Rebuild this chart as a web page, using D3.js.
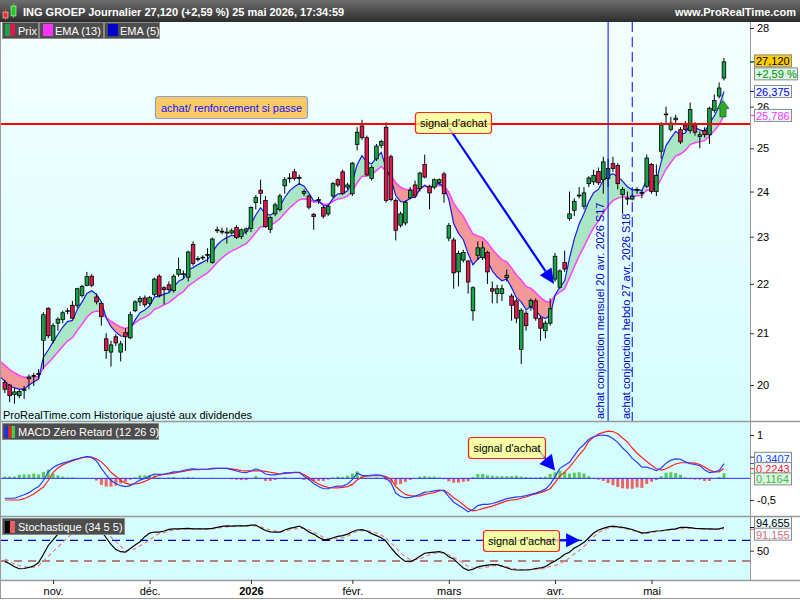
<!DOCTYPE html>
<html>
<head>
<meta charset="utf-8">
<script src="https://cdn.jsdelivr.net/npm/d3@7"></script>
<style>
body { margin: 0; background: #fff; }
svg { display: block; font-family: "Liberation Sans", Arial, sans-serif; }
</style>
</head>
<body>
<div id="chart"></div>
<script>
// daily candles ING GROEP, 20 oct. 2025 -> 25 mai 2026
const openP = [
  20.05, 20.00, 19.82, 19.80, 19.90, 20.12, 20.17, 20.20, 20.86, 21.50,
  20.86, 21.20, 21.27, 21.44, 21.56, 21.56, 21.76, 21.97, 22.16, 21.73,
  21.60, 20.89, 20.63, 20.93, 20.63, 21.01, 20.91, 21.45, 21.63, 21.71,
  21.60, 21.78, 22.16, 21.92, 21.98, 21.86, 22.20, 22.20, 22.14, 22.83,
  22.52, 22.55, 22.60, 22.45, 23.13, 23.10, 23.08, 23.08, 23.20, 23.00,
  23.12, 23.18, 23.75, 24.03, 23.80, 23.16, 23.50, 23.60, 24.13, 24.30,
  24.45, 24.31, 23.96, 23.90, 23.49, 23.80, 23.64, 23.50, 23.90, 24.27,
  24.45, 24.10, 23.95, 25.09, 25.53, 25.25, 24.30, 24.75, 25.07, 25.50,
  24.80, 23.80, 23.25, 23.30, 23.86, 24.15, 24.07, 24.62, 24.12, 24.10,
  24.20, 24.40, 22.97, 22.93, 22.25, 22.50, 22.48, 21.45, 22.60, 22.55,
  22.66, 21.90, 21.80, 21.80, 22.13, 21.75, 21.65, 20.68, 21.40, 21.54,
  21.65, 21.30, 21.05, 21.20, 22.10, 21.93, 22.45, 23.40, 23.58, 23.90,
  23.67, 24.18, 24.22, 24.46, 24.27, 24.30, 24.64, 24.60, 23.93, 23.83,
  23.83, 24.04, 23.96, 24.12, 24.62, 24.00, 24.93, 25.80, 25.45, 25.68,
  25.44, 25.55, 25.42, 25.56, 25.28, 25.42, 25.32, 25.91, 26.26, 26.71
];
const highP = [
  20.10, 20.02, 19.95, 19.92, 19.98, 20.20, 20.23, 20.30, 21.42, 21.52,
  21.20, 21.32, 21.45, 21.50, 21.65, 21.92, 21.98, 22.25, 22.20, 21.80,
  21.62, 21.00, 20.85, 20.98, 20.85, 21.10, 21.43, 21.66, 21.75, 21.76,
  21.75, 22.13, 22.20, 21.95, 22.05, 22.20, 22.55, 22.28, 22.70, 22.90,
  22.58, 22.60, 22.75, 22.98, 23.22, 23.20, 23.20, 23.18, 23.25, 23.18,
  23.20, 23.67, 23.92, 24.27, 23.90, 23.45, 23.75, 23.95, 24.33, 24.42,
  24.52, 24.38, 24.05, 23.93, 23.52, 23.88, 23.68, 23.70, 24.22, 24.30,
  24.50, 24.20, 24.68, 25.50, 25.68, 25.30, 24.60, 25.10, 25.20, 25.62,
  24.85, 23.85, 23.55, 23.80, 24.10, 24.25, 24.45, 24.85, 24.15, 24.30,
  24.30, 24.45, 23.30, 22.98, 22.70, 22.72, 22.50, 21.95, 22.90, 22.90,
  22.70, 22.05, 21.98, 21.98, 22.30, 21.80, 21.70, 21.50, 21.45, 21.70,
  21.70, 21.35, 21.25, 21.70, 22.65, 22.30, 22.70, 24.00, 23.85, 24.10,
  24.10, 24.35, 24.50, 24.55, 24.80, 24.75, 24.80, 24.65, 24.10, 24.00,
  23.95, 24.10, 24.03, 24.85, 24.65, 24.62, 25.62, 26.00, 25.75, 25.80,
  25.50, 25.65, 26.10, 25.62, 25.40, 25.50, 26.00, 26.30, 26.60, 27.22
];
const lowP = [
  19.85, 19.68, 19.65, 19.75, 19.74, 19.92, 19.98, 20.12, 20.30, 20.90,
  20.80, 21.05, 21.20, 21.38, 21.28, 21.50, 21.72, 21.95, 21.93, 21.58,
  21.15, 20.50, 20.35, 20.75, 20.45, 20.65, 20.88, 21.42, 21.55, 21.52,
  21.55, 21.75, 21.72, 21.58, 21.83, 21.82, 22.15, 22.10, 22.05, 22.38,
  22.47, 22.50, 22.45, 22.42, 23.08, 23.05, 22.85, 23.05, 22.95, 22.95,
  23.05, 23.10, 23.60, 23.72, 23.20, 23.08, 23.45, 23.55, 23.95, 24.20,
  24.25, 24.15, 23.90, 23.60, 23.15, 23.72, 23.40, 23.45, 23.85, 24.10,
  23.92, 24.05, 23.90, 24.95, 25.20, 24.35, 24.25, 24.70, 25.00, 23.75,
  23.78, 22.92, 23.20, 23.25, 23.82, 23.85, 24.00, 24.30, 23.60, 24.05,
  24.15, 23.75, 22.90, 21.90, 21.95, 22.45, 21.80, 21.25, 22.50, 22.50,
  22.00, 21.60, 21.60, 21.65, 22.05, 21.25, 21.20, 20.40, 21.05, 21.45,
  21.25, 20.85, 20.90, 21.15, 22.05, 21.90, 22.25, 23.35, 23.45, 23.85,
  23.60, 24.10, 24.15, 24.15, 23.95, 24.10, 24.45, 24.05, 23.50, 23.70,
  23.80, 23.95, 23.85, 24.08, 23.95, 23.90, 24.75, 25.60, 25.40, 25.55,
  25.10, 25.40, 25.35, 25.30, 25.00, 25.25, 25.10, 25.85, 26.20, 26.65
];
const closeP = [
  19.92, 19.80, 19.87, 19.88, 19.92, 20.15, 20.18, 20.22, 21.37, 20.95,
  21.15, 21.28, 21.41, 21.45, 21.30, 21.90, 21.95, 22.15, 21.97, 21.63,
  21.33, 20.66, 20.77, 20.81, 20.79, 20.93, 21.37, 21.63, 21.70, 21.57,
  21.72, 22.10, 21.76, 21.88, 21.88, 22.16, 22.30, 22.21, 22.67, 22.43,
  22.53, 22.56, 22.62, 22.95, 23.15, 23.12, 23.10, 23.13, 22.98, 23.15,
  23.17, 23.64, 23.87, 23.96, 23.22, 23.42, 23.70, 23.90, 24.27, 24.31,
  24.30, 24.32, 24.00, 23.65, 23.44, 23.82, 23.45, 23.67, 24.18, 24.15,
  23.96, 24.15, 24.65, 25.38, 25.25, 24.38, 24.55, 25.05, 25.16, 23.80,
  23.82, 23.14, 23.50, 23.76, 24.03, 23.90, 24.42, 24.33, 23.97, 24.27,
  24.27, 23.95, 23.24, 22.23, 22.64, 22.66, 22.04, 21.92, 22.76, 22.76,
  22.25, 21.85, 21.90, 21.90, 22.18, 21.56, 21.30, 21.46, 21.15, 21.66,
  21.30, 21.10, 21.20, 21.49, 22.58, 22.27, 22.31, 23.50, 23.78, 23.92,
  23.97, 24.31, 24.37, 24.20, 24.68, 24.53, 24.53, 24.18, 24.05, 23.85,
  23.90, 24.05, 23.98, 24.77, 24.00, 24.37, 25.56, 25.82, 25.60, 25.72,
  25.15, 25.45, 25.93, 25.38, 25.32, 25.32, 25.96, 26.15, 26.46, 27.12
];

// MACD zero retard (12 26 9): ligne et signal
const macdLine = [
  -0.46, -0.46, -0.46, -0.42, -0.38, -0.33, -0.25, -0.19, -0.05, 0.15,
  0.25, 0.31, 0.35, 0.38, 0.42, 0.45, 0.48, 0.50, 0.48, 0.40,
  0.23, 0.08, -0.05, -0.12, -0.17, -0.19, -0.17, -0.11, -0.04, 0.00,
  0.05, 0.10, 0.09, 0.10, 0.12, 0.15, 0.15, 0.18, 0.21, 0.22,
  0.21, 0.21, 0.21, 0.23, 0.23, 0.23, 0.23, 0.20, 0.17, 0.14,
  0.13, 0.17, 0.22, 0.18, 0.10, 0.08, 0.08, 0.10, 0.13, 0.12,
  0.14, 0.14, 0.05, -0.02, -0.12, -0.19, -0.24, -0.24, -0.20, -0.18,
  -0.18, -0.13, -0.03, 0.12, 0.07, 0.06, 0.07, 0.08, 0.07, 0.00,
  -0.10, -0.34, -0.42, -0.45, -0.44, -0.41, -0.37, -0.32, -0.31, -0.29,
  -0.27, -0.29, -0.42, -0.55, -0.62, -0.69, -0.77, -0.72, -0.63, -0.60,
  -0.60, -0.58, -0.55, -0.51, -0.47, -0.45, -0.43, -0.42, -0.40, -0.37,
  -0.34, -0.30, -0.25, -0.14, 0.04, 0.23, 0.30, 0.37, 0.53, 0.68,
  0.78, 0.90, 0.96, 0.99, 1.00, 0.98, 0.92, 0.83, 0.70, 0.60,
  0.46, 0.37, 0.26, 0.26, 0.22, 0.18, 0.24, 0.35, 0.42, 0.45,
  0.44, 0.38, 0.34, 0.32, 0.29, 0.20, 0.13, 0.15, 0.18, 0.3407
];
const signalLine = [
  -0.50, -0.50, -0.50, -0.50, -0.47, -0.42, -0.36, -0.28, -0.20, -0.05,
  0.14, 0.24, 0.31, 0.36, 0.40, 0.44, 0.47, 0.50, 0.49, 0.45,
  0.38, 0.27, 0.14, 0.05, -0.05, -0.11, -0.14, -0.13, -0.11, -0.07,
  -0.02, 0.03, 0.07, 0.09, 0.10, 0.12, 0.14, 0.16, 0.18, 0.20,
  0.20, 0.21, 0.21, 0.22, 0.23, 0.23, 0.23, 0.22, 0.20, 0.18,
  0.17, 0.17, 0.17, 0.17, 0.16, 0.14, 0.12, 0.10, 0.11, 0.13,
  0.13, 0.13, 0.09, 0.02, -0.06, -0.13, -0.18, -0.21, -0.22, -0.22,
  -0.21, -0.19, -0.14, -0.04, 0.03, 0.05, 0.06, 0.06, 0.06, 0.04,
  -0.02, -0.19, -0.29, -0.37, -0.40, -0.41, -0.41, -0.37, -0.35, -0.33,
  -0.29, -0.27, -0.35, -0.45, -0.52, -0.61, -0.70, -0.75, -0.73, -0.70,
  -0.67, -0.64, -0.60, -0.56, -0.52, -0.50, -0.49, -0.46, -0.43, -0.39,
  -0.36, -0.33, -0.29, -0.24, -0.10, 0.05, 0.15, 0.26, 0.40, 0.54,
  0.67, 0.85, 0.95, 1.02, 1.06, 1.09, 1.08, 1.03, 0.93, 0.84,
  0.70, 0.58, 0.48, 0.39, 0.30, 0.22, 0.19, 0.22, 0.28, 0.33,
  0.36, 0.36, 0.36, 0.35, 0.32, 0.26, 0.19, 0.15, 0.15, 0.2243
];

// Stochastique (34 5 5): %K et %D
const stochK = [
  29, 24.5, 19, 15, 15.5, 17.5, 20.5, 27, 43, 60,
  71, 82, 92, 97, 99, 99.5, 99.5, 99, 98, 94,
  88, 75, 62, 52, 48, 47, 54, 61, 67, 77,
  84, 86, 86, 88, 91, 92, 92, 92.5, 93, 92,
  92, 92, 92, 93, 95, 97, 98, 97.5, 98, 98,
  98, 99.5, 99.5, 94, 89, 86.5, 86, 86, 90, 93,
  95, 97.5, 93, 86, 82, 76, 71.5, 71.5, 75, 77.5,
  79, 82, 86.5, 90, 90.5, 88, 83, 79, 75, 68,
  56, 45, 36, 29, 28.5, 33, 39, 45, 46, 47,
  48, 46, 38, 34, 25, 16.5, 12, 14, 18.5, 20.5,
  22, 23, 23, 20, 17, 13.5, 12.6, 12.6, 12.6, 13.5,
  15.5, 16.5, 19, 25, 30, 36, 43, 47, 55, 60,
  66, 75, 84, 90, 93, 96, 97.5, 96, 95, 93,
  91, 87.5, 84, 85, 86.5, 88, 88.5, 90, 91, 92,
  95, 95, 94.5, 93, 92.5, 92, 92, 91.5, 92, 94.655
];
const stochD = [
  34, 29.5, 24, 21, 19, 17.5, 17.5, 21, 30, 39,
  48, 57, 66, 76, 83, 90, 95, 98, 98.5, 97.5,
  94, 86, 76, 68, 59, 50, 51, 54, 59, 65,
  70, 78, 83, 85, 88, 90, 91, 91.5, 92, 92,
  92, 92, 92, 92, 93, 95, 96, 97, 97.5, 98,
  98, 98, 98, 96, 93, 90, 88, 86, 87, 90,
  92, 93, 93, 90.5, 86.5, 81, 76, 73.5, 73, 73.5,
  75, 78, 83, 87, 88.5, 88.5, 87, 84, 80, 74,
  65, 56, 46, 38, 33, 32.5, 34, 38.5, 42, 45,
  46, 45, 42, 37, 32, 25.5, 19.5, 16, 16, 16.5,
  18.5, 20.5, 21, 20.5, 19, 16.5, 14.5, 13, 12.6, 12.8,
  13.5, 14.5, 16, 19.5, 21, 25, 30, 36, 44, 50,
  58, 67, 77, 85, 90, 93, 95, 95, 93.5, 91.5,
  89, 86.5, 84, 83.5, 84.5, 86.5, 88, 89.5, 90.5, 91,
  92, 92.5, 93, 93, 92.5, 92, 91.5, 91, 91.5, 91.155
];

const holidays = ["2025-12-25", "2025-12-26", "2026-01-01", "2026-04-03", "2026-04-06", "2026-05-01"];
const monthLabels = ["nov.", "déc.", "2026", "févr.", "mars", "avr.", "mai"];
const priceTicks = [20, 21, 22, 23, 24, 25, 26, 28];
const ema13Seed = 20.45;   // niveau des moyennes avant la 1re bougie
const ema5Seed = 20.15;
const resistance = 25.58;

// trading days
var fmtDay = d3.timeFormat("%Y-%m-%d");
var dates = [];
var day = new Date(2025, 9, 20);
while (dates.length < closeP.length) {
    var wd = day.getDay();
    if (wd != 0 && wd != 6 && holidays.indexOf(fmtDay(day)) < 0) dates.push(new Date(day));
    day.setDate(day.getDate() + 1);
}
var monthStarts = [];
dates.forEach(function (d, i) {
    if (i > 0 && d.getMonth() != dates[i - 1].getMonth()) monthStarts.push(i);
});

function ema(values, period, seed) {
    var k = 2 / (period + 1), prev = seed;
    return values.map(function (v) { prev = prev + k * (v - prev); return prev; });
}
var ema13 = [ema13Seed].concat(ema(closeP, 13, ema13Seed));
var ema5 = [ema5Seed].concat(ema(closeP, 5, ema5Seed));

function fr(v, n) { return v.toFixed(n).replace(".", ","); }

const plotR = 750;
var x = d3.scaleLinear().domain([-1, 154.4]).range([0, plotR]);
var yP = d3.scaleLog().domain([20, 28]).range([385, 28]);
var yM = d3.scaleLinear().domain([-0.5, 1]).range([500, 435]);
var yS = d3.scaleLinear().domain([0, 100]).range([576.5, 524.8]);

var svg = d3.select("#chart").append("svg")
    .attr("width", 800)
    .attr("height", 600);

var defs = svg.append("defs");
var g1 = defs.append("linearGradient").attr("id", "hdrGrad").attr("x1", 0).attr("y1", 0).attr("x2", 0).attr("y2", 1);
g1.append("stop").attr("offset", "0%").attr("stop-color", "#6e6e6e");
g1.append("stop").attr("offset", "100%").attr("stop-color", "#2c2c2c");
var g2 = defs.append("linearGradient").attr("id", "priceGrad").attr("x1", 0).attr("y1", 0).attr("x2", 0).attr("y2", 1);
g2.append("stop").attr("offset", "0%").attr("stop-color", "#f4ffff");
g2.append("stop").attr("offset", "100%").attr("stop-color", "#d6fdfd");
defs.append("clipPath").attr("id", "clipPrice").append("rect").attr("x", 0).attr("y", 22).attr("width", plotR).attr("height", 399);
defs.append("clipPath").attr("id", "clipMacd").append("rect").attr("x", 0).attr("y", 423).attr("width", plotR).attr("height", 93);
defs.append("clipPath").attr("id", "clipStoch").append("rect").attr("x", 0).attr("y", 518).attr("width", plotR).attr("height", 62);

// panels
svg.append("rect").attr("x", 0).attr("y", 22).attr("width", plotR).attr("height", 399).attr("fill", "url(#priceGrad)");
svg.append("rect").attr("x", 0).attr("y", 422).attr("width", plotR).attr("height", 95).attr("fill", "#d6fdfd");
svg.append("rect").attr("x", 0).attr("y", 517).attr("width", plotR).attr("height", 63).attr("fill", "#d6fdfd");

// header
svg.append("rect").attr("width", 800).attr("height", 22).attr("fill", "url(#hdrGrad)");
svg.append("line").attr("x1", 5.5).attr("x2", 5.5).attr("y1", 9).attr("y2", 20).attr("stroke", "#e33");
svg.append("rect").attr("x", 3).attr("y", 12).attr("width", 5).attr("height", 6).attr("fill", "#e33").attr("stroke", "#fff").attr("stroke-width", 0.5);
svg.append("line").attr("x1", 13.5).attr("x2", 13.5).attr("y1", 3).attr("y2", 18).attr("stroke", "#2c2");
svg.append("rect").attr("x", 11).attr("y", 6).attr("width", 5).attr("height", 10).attr("fill", "#2c2").attr("stroke", "#fff").attr("stroke-width", 0.5);
svg.append("text").attr("x", 23).attr("y", 16)
    .attr("fill", "#fff").attr("font-size", 11).attr("font-weight", "bold")
    .text("ING GROEP Journalier 27,120 (+2,59 %) 25 mai 2026, 17:34:59");
svg.append("text").attr("x", 796).attr("y", 16).attr("text-anchor", "end")
    .attr("fill", "#fff").attr("font-size", 11).attr("font-weight", "bold")
    .text("www.ProRealTime.com");

// legend boxes
var legend = [
    { x: 2, w: 37, label: "Prix", c: null },
    { x: 39, w: 65, label: "EMA (13)", c: "#ff33ff" },
    { x: 104, w: 56, label: "EMA (5)", c: "#0000cc" }
];
legend.forEach(function (l) {
    svg.append("rect").attr("x", l.x + 0.5).attr("y", 22.5).attr("width", l.w - 1).attr("height", 16)
        .attr("fill", "#4d4d4d").attr("stroke", "#8a8a8a");
    if (l.c) {
        svg.append("rect").attr("x", l.x + 4).attr("y", 24).attr("width", 10).attr("height", 12).attr("fill", l.c);
    } else {
        svg.append("rect").attr("x", l.x + 3).attr("y", 24).attr("width", 5).attr("height", 12).attr("fill", "#1aa34a");
        svg.append("rect").attr("x", l.x + 8).attr("y", 24).attr("width", 5).attr("height", 12).attr("fill", "#e0184c");
    }
    svg.append("text").attr("x", l.x + 16).attr("y", 35).attr("fill", "#fff").attr("font-size", 11).text(l.label);
});

// ---- price panel
var price = svg.append("g").attr("clip-path", "url(#clipPrice)");

// fill between the two EMAs
function splitRuns(a, b) {
    var runs = [], sign = a[0] >= b[0];
    var cur = [{ i: -1, a: a[0], b: b[0] }];
    for (var k = 1; k < a.length; k++) {
        var s = a[k] >= b[k];
        if (s != sign) {
            var d0 = a[k - 1] - b[k - 1], d1 = a[k] - b[k], t = d0 / (d0 - d1);
            var v = a[k - 1] + t * (a[k] - a[k - 1]);
            var pt = { i: k - 2 + t, a: v, b: v };
            cur.push(pt);
            runs.push({ up: sign, pts: cur });
            cur = [pt];
            sign = s;
        }
        cur.push({ i: k - 1, a: a[k], b: b[k] });
    }
    runs.push({ up: sign, pts: cur });
    return runs;
}
var band = d3.area()
    .x(function (d) { return x(d.i); })
    .y0(function (d) { return yP(d.b); })
    .y1(function (d) { return yP(d.a); });
price.selectAll("path.band")
    .data(splitRuns(ema5, ema13))
    .enter().append("path")
    .attr("class", "band")
    .attr("d", function (d) { return band(d.pts); })
    .attr("fill", function (d) { return d.up ? "#a8e6c4" : "#f29898"; });

var emaLine = d3.line()
    .x(function (d, i) { return x(i - 1); })
    .y(function (d) { return yP(d); });
price.append("path").attr("d", emaLine(ema13)).attr("fill", "none").attr("stroke", "#ff40ff").attr("stroke-width", 1.5);
price.append("path").attr("d", emaLine(ema5)).attr("fill", "none").attr("stroke", "#1a1aee").attr("stroke-width", 1.2);

// candles
var candles = price.append("g").selectAll("g")
    .data(closeP)
    .enter().append("g");
candles.append("line")
    .attr("x1", function (d, i) { return x(i); })
    .attr("x2", function (d, i) { return x(i); })
    .attr("y1", function (d, i) { return yP(highP[i]); })
    .attr("y2", function (d, i) { return yP(lowP[i]); })
    .attr("stroke", "#000").attr("stroke-width", 1);
candles.append("rect")
    .attr("x", function (d, i) { return x(i) - 1.8; })
    .attr("width", 3.6)
    .attr("y", function (d, i) { return yP(Math.max(openP[i], d)); })
    .attr("height", function (d, i) { return Math.max(0.8, yP(Math.min(openP[i], d)) - yP(Math.max(openP[i], d))); })
    .attr("fill", function (d, i) { return d >= openP[i] ? "#1aa34a" : "#e0184c"; })
    .attr("stroke", "#000").attr("stroke-width", 0.8);

// resistance and conjonction lines
price.append("line").attr("x1", 0).attr("x2", plotR).attr("y1", yP(resistance)).attr("y2", yP(resistance))
    .attr("stroke", "#ff0000").attr("stroke-width", 2);
price.append("line").attr("x1", x(125)).attr("x2", x(125)).attr("y1", 22).attr("y2", 421)
    .attr("stroke", "#0000ff").attr("stroke-width", 1);
price.append("line").attr("x1", x(130)).attr("x2", x(130)).attr("y1", 22).attr("y2", 421)
    .attr("stroke", "#0000ff").attr("stroke-width", 1).attr("stroke-dasharray", "10,5");
price.append("text").attr("transform", "translate(" + (x(125) - 4) + ",419) rotate(-90)")
    .attr("fill", "#0000cc").attr("font-size", 11).text("achat conjonction mensuel 20 avr. 2026 S17");
price.append("text").attr("transform", "translate(" + (x(130) - 2) + ",419) rotate(-90)")
    .attr("fill", "#0000cc").attr("font-size", 11).text("achat conjonction hebdo 27 avr. 2026 S18");

price.append("text").attr("x", 3).attr("y", 419).attr("font-size", 11).attr("fill", "#000")
    .text("ProRealTime.com  Historique ajusté aux dividendes");

// arrows
function arrow(g, x1, y1, x2, y2, len, half, width) {
    var dx = x2 - x1, dy = y2 - y1, L = Math.sqrt(dx * dx + dy * dy);
    var ux = dx / L, uy = dy / L;
    var bx = x2 - ux * len, by = y2 - uy * len;
    g.append("line").attr("x1", x1).attr("y1", y1).attr("x2", bx).attr("y2", by)
        .attr("stroke", "#0000ff").attr("stroke-width", width);
    g.append("path")
        .attr("d", "M" + x2 + "," + y2 + "L" + (bx - uy * half) + "," + (by + ux * half) + "L" + (bx + uy * half) + "," + (by - ux * half) + "Z")
        .attr("fill", "#0000ff");
}
function noteBox(g, x0, y0, w, h, fill, stroke, txt, color) {
    g.append("rect").attr("x", x0 + 0.5).attr("y", y0 + 0.5).attr("width", w).attr("height", h).attr("rx", 3)
        .attr("fill", fill).attr("fill-opacity", 0.75).attr("stroke", stroke).attr("stroke-width", 1.2);
    g.append("text").attr("x", x0 + w / 2 + 0.5).attr("y", y0 + h / 2 + 4.5).attr("text-anchor", "middle")
        .attr("font-size", 11).attr("fill", color).text(txt);
}

var notes = svg.append("g");
noteBox(notes, 155, 96, 152, 22, "#ffb833", "#8aa0d8", "achat/ renforcement si passe", "#1010ff");
arrow(notes, 449, 128, x(113.8), yP(22.0), 15, 7, 2.2);
noteBox(notes, 415, 112, 76, 21, "#ffff88", "#ff2020", "signal d'achat", "#000");

// green arrow near last candle
var ga = x(149) - 1, gt = yP(26.15), gb = yP(25.75);
notes.append("path")
    .attr("d", "M" + ga + "," + gt + "L" + (ga + 6) + "," + (gt + 8) + "L" + (ga + 3) + "," + (gt + 8) + "L" + (ga + 3) + "," + gb +
        "L" + (ga - 3) + "," + gb + "L" + (ga - 3) + "," + (gt + 8) + "L" + (ga - 6) + "," + (gt + 8) + "Z")
    .attr("fill", "#2faa2f").attr("stroke", "#136613").attr("stroke-width", 0.8);

// ---- MACD panel
var macd = svg.append("g").attr("clip-path", "url(#clipMacd)");
macd.append("g").selectAll("rect")
    .data(macdLine)
    .enter().append("rect")
    .attr("x", function (d, i) { return x(i) - 1.5; })
    .attr("width", 3)
    .attr("y", function (d, i) { return Math.min(yM(0), yM(d - signalLine[i])); })
    .attr("height", function (d, i) { return Math.abs(yM(d - signalLine[i]) - yM(0)); })
    .attr("fill", function (d, i) { return d >= signalLine[i] ? "#55cc55" : "#ea6464"; });
macd.append("line").attr("x1", 0).attr("x2", plotR).attr("y1", yM(0)).attr("y2", yM(0))
    .attr("stroke", "#2a2aff").attr("stroke-width", 1);
var mLine = d3.line().x(function (d, i) { return x(i); }).y(function (d) { return yM(d); });
macd.append("path").attr("d", mLine(signalLine)).attr("fill", "none").attr("stroke", "#ff2020").attr("stroke-width", 1.2);
macd.append("path").attr("d", mLine(macdLine)).attr("fill", "none").attr("stroke", "#2a3cff").attr("stroke-width", 1.2);

var mnotes = svg.append("g");
arrow(mnotes, 536, 447, x(114), yM(0.18), 15, 8, 2.2);
noteBox(mnotes, 468, 437, 77, 21, "#ffff88", "#ff2020", "signal d'achat", "#000");

// ---- Stochastique panel
var stoch = svg.append("g").attr("clip-path", "url(#clipStoch)");
stoch.append("line").attr("x1", 0).attr("x2", plotR).attr("y1", yS(70)).attr("y2", yS(70))
    .attr("stroke", "#0000cc").attr("stroke-width", 1.2).attr("stroke-dasharray", "8,6");
stoch.append("line").attr("x1", 0).attr("x2", plotR).attr("y1", yS(30)).attr("y2", yS(30))
    .attr("stroke", "#990000").attr("stroke-width", 1.2).attr("stroke-dasharray", "8,6");
var sLine = d3.line().x(function (d, i) { return x(i); }).y(function (d) { return yS(d); });
stoch.append("path").attr("d", sLine(stochD)).attr("fill", "none").attr("stroke", "#e88080")
    .attr("stroke-width", 1.2).attr("stroke-dasharray", "4,3");
stoch.append("path").attr("d", sLine(stochK)).attr("fill", "none").attr("stroke", "#000").attr("stroke-width", 1.2);

var snotes = svg.append("g");
arrow(snotes, 540, yS(70), x(119.2), yS(70), 14, 7, 2.2);
noteBox(snotes, 483, 530, 76, 21, "#ffff88", "#ff2020", "signal d'achat", "#000");

// panel titles
function panelTitle(y0, w, txt, colors) {
    svg.append("rect").attr("x", 2.5).attr("y", y0 + 0.5).attr("width", w).attr("height", 16)
        .attr("fill", "#4d4d4d").attr("stroke", "#8a8a8a");
    colors.forEach(function (c, k) {
        svg.append("rect").attr("x", 5 + k * 10 / colors.length).attr("y", y0 + 3).attr("width", 10 / colors.length).attr("height", 12).attr("fill", c);
    });
    svg.append("text").attr("x", 18).attr("y", y0 + 13).attr("fill", "#fff").attr("font-size", 11).text(txt);
}
panelTitle(423, 156, "MACD Zéro Retard (12 26 9)", ["#1030ff", "#ff2020", "#44cc44"]);
panelTitle(518, 122, "Stochastique (34 5 5)", ["#000", "#e86060"]);

// separators
[421.5, 516.5, 580.5].forEach(function (y) {
    svg.append("line").attr("x1", 0).attr("x2", 800).attr("y1", y).attr("y2", y).attr("stroke", "#9a9a9a").attr("stroke-width", 1.5);
});
svg.append("line").attr("x1", 0).attr("x2", 800).attr("y1", 598.5).attr("y2", 598.5).attr("stroke", "#9a9a9a");
svg.append("line").attr("x1", 0.5).attr("x2", 0.5).attr("y1", 22).attr("y2", 598).attr("stroke", "#9a9a9a");
svg.append("line").attr("x1", plotR + 0.5).attr("x2", plotR + 0.5).attr("y1", 22).attr("y2", 581).attr("stroke", "#9a9a9a");

// ---- axes
function styleAxis(g) {
    g.select(".domain").remove();
    g.selectAll("text").attr("font-size", 11).attr("fill", "#000").attr("font-family", "Liberation Sans, Arial, sans-serif");
    g.selectAll("line").attr("stroke", "#333");
}
svg.append("g").attr("transform", "translate(" + plotR + ",0)")
    .call(d3.axisRight(yP).tickValues(priceTicks).tickFormat(d3.format("d")).tickSize(4).tickPadding(3))
    .call(styleAxis);
svg.append("g").attr("transform", "translate(" + plotR + ",0)")
    .call(d3.axisRight(yM).tickValues([-0.5, 0.5, 1]).tickFormat(function (d) { return String(d).replace(".", ","); }).tickSize(4).tickPadding(3))
    .call(styleAxis);
svg.append("g").attr("transform", "translate(" + plotR + ",0)")
    .call(d3.axisRight(yS).tickValues([50]).tickSize(4).tickPadding(3))
    .call(styleAxis);
var xAxis = svg.append("g").attr("transform", "translate(0,580)")
    .call(d3.axisBottom(x).tickValues(monthStarts).tickFormat(function (d, i) { return monthLabels[i]; }).tickSize(4).tickPadding(3))
    .call(styleAxis);
xAxis.selectAll("text").attr("font-weight", function (d, i) { return monthLabels[i] == "2026" ? "bold" : "normal"; });

// right side value labels
function valueTag(yc, yv, txt, color, bg, w) {
    svg.append("line").attr("x1", plotR).attr("x2", plotR + 4).attr("y1", yv).attr("y2", yv).attr("stroke", color);
    svg.append("rect").attr("x", plotR + 4.5).attr("y", yc - 6).attr("width", w).attr("height", 12)
        .attr("fill", bg).attr("stroke", "#8a8a8a");
    svg.append("text").attr("x", plotR + 6).attr("y", yc + 4.5).attr("font-size", 11).attr("fill", color).text(txt);
}
var last = closeP.length - 1;
valueTag(yP(closeP[last]) - 1, yP(closeP[last]), fr(closeP[last], 3), "#000", "#ffcc00", 37);
valueTag(yP(closeP[last]) + 12, yP(closeP[last]), "+2,59 %", "#008a00", "#d8f8e4", 43);
valueTag(yP(ema5[ema5.length - 1]), yP(ema5[ema5.length - 1]), fr(ema5[ema5.length - 1], 3), "#0000ee", "#eef8ff", 37);
valueTag(yP(ema13[ema13.length - 1]), yP(ema13[ema13.length - 1]), fr(ema13[ema13.length - 1], 3), "#ff33ff", "#eefefe", 37);

var mMid = yM(signalLine[last]);
valueTag(mMid - 10.3, yM(macdLine[last]), fr(macdLine[last], 4), "#2a3cff", "#eefcff", 37);
valueTag(mMid, mMid, fr(signalLine[last], 4), "#ff2020", "#eefcff", 37);
valueTag(mMid + 10.3, yM(macdLine[last] - signalLine[last]), fr(macdLine[last] - signalLine[last], 4), "#44bb44", "#ddf6e4", 37);

var sMid = (yS(stochK[last]) + yS(stochD[last])) / 2;
valueTag(sMid - 5.7, yS(stochK[last]), fr(stochK[last], 3), "#000", "#eefcff", 37);
valueTag(sMid + 5.7, yS(stochD[last]), fr(stochD[last], 3), "#e07070", "#eefcff", 37);
</script>
</body>
</html>
